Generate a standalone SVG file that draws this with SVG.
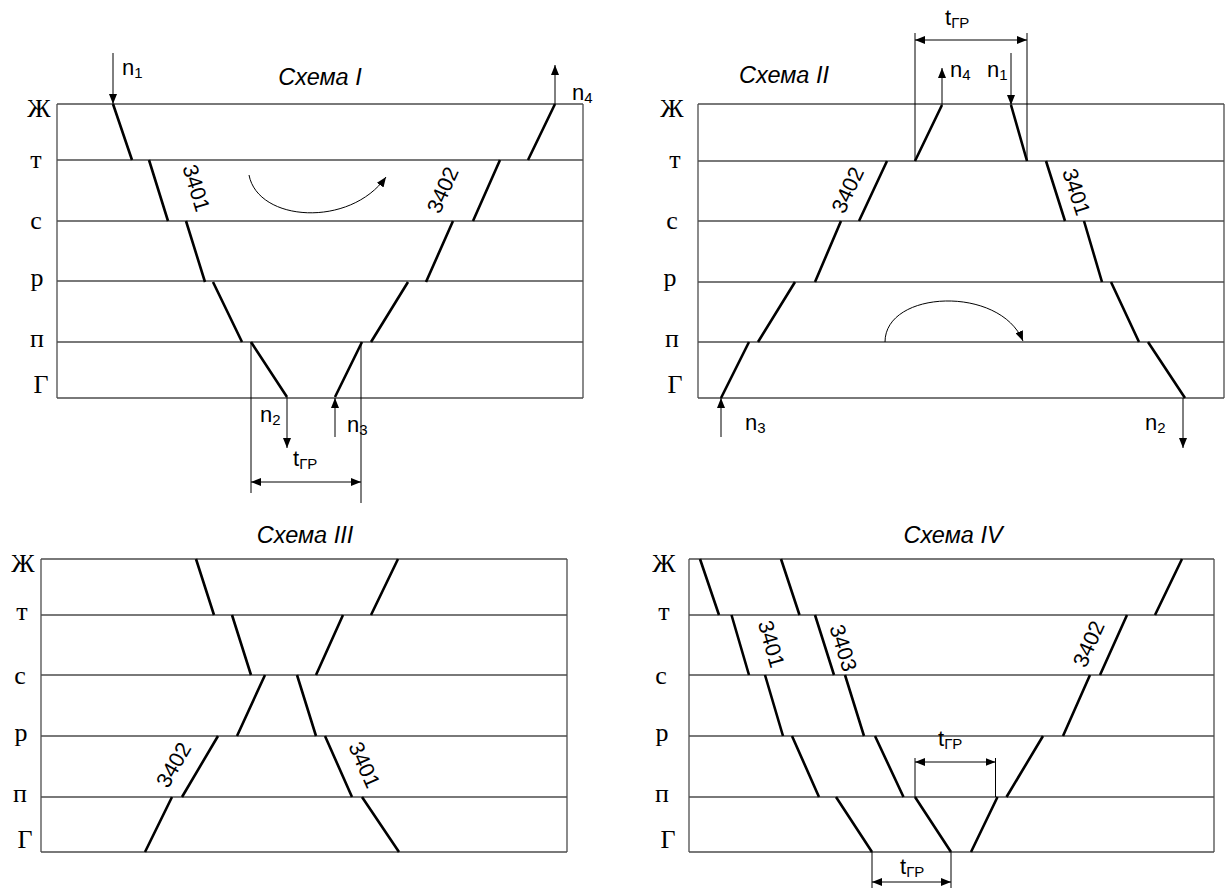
<svg xmlns="http://www.w3.org/2000/svg" width="1229" height="888" viewBox="0 0 1229 888">
<defs>
<marker id="ah" viewBox="0 0 10 8" refX="10" refY="4" markerWidth="10" markerHeight="8" markerUnits="userSpaceOnUse" orient="auto-start-reverse">
<path d="M0,0 L10,4 L0,8 z" fill="#000"/>
</marker>
<style>
.grid{stroke:#4d4d4d;stroke-width:1.3;fill:none}
.trk{stroke:#000;stroke-width:2.6;fill:none}
.arr{stroke:#000;stroke-width:1;fill:none}
.arm{stroke:#000;stroke-width:1;fill:none;marker-end:url(#ah)}
.dim{stroke:#000;stroke-width:1;fill:none;marker-start:url(#ah);marker-end:url(#ah)}
.row{font-family:"Liberation Serif",serif;font-size:26px;fill:#000;text-anchor:middle}
.lab{font-family:"Liberation Sans",sans-serif;font-size:22px;fill:#000}
.sub{font-size:15px}
.ttl{font-family:"Liberation Sans",sans-serif;font-size:23.5px;font-style:italic;fill:#000;text-anchor:middle}
.num{font-family:"Liberation Sans",sans-serif;font-size:21.5px;fill:#000;text-anchor:middle;dominant-baseline:central}
</style>
</defs>
<rect width="1229" height="888" fill="#fff"/>

<g id="scheme1">
<g id="s1-grid">
<path class="grid" d="M57,104H583M57,160H583M57,221H583M57,281H583M57,342H583M57,398H583M57,104V398M583,104V398"/>
</g>
<g id="s1-rows">
<text class="row" x="39" y="117">Ж</text>
<text class="row" x="36" y="168">т</text>
<text class="row" x="36" y="229">с</text>
<text class="row" x="37" y="286">р</text>
<text class="row" x="37" y="347">п</text>
<text class="row" x="41" y="393">Г</text>
</g>
<text class="ttl" x="320" y="85">Схема I</text>
<g id="s1-tracks">
<path class="trk" d="M113,104L132,160M149,160L168,221M186,221L205,282M213,282L242,342M251,342L287,397"/>
<path class="trk" d="M555,104L528,160M500,160L473,221M453,221L426,282M408,282L371,342M362,342L335,397"/>
</g>
<text class="num" transform="translate(196,188) rotate(73)">3401</text>
<text class="num" transform="translate(443,190) rotate(-66)">3402</text>
<g id="s1-connectors">
<path class="arm" d="M113,53V104"/>
<path class="arm" d="M555,104V65"/>
<path class="arm" d="M287,397V448"/>
<path class="arm" d="M335,437V398"/>
<path class="arr" d="M251,342V493M361,342V503"/>
<path class="dim" d="M251,482H361"/>
<path class="arm" d="M249,175C258,222 350,228 386,177"/>
</g>
<text class="lab" x="122" y="75">n<tspan class="sub" dy="3">1</tspan></text>
<text class="lab" x="572" y="100">n<tspan class="sub" dy="3">4</tspan></text>
<text class="lab" x="260" y="422">n<tspan class="sub" dy="3">2</tspan></text>
<text class="lab" x="347" y="432">n<tspan class="sub" dy="3">3</tspan></text>
<text class="lab" x="293" y="466">t<tspan class="sub" dy="3">ГР</tspan></text>
</g>

<g id="scheme2">
<g id="s2-grid">
<path class="grid" d="M698,104H1224M698,161H1224M698,221H1224M698,282H1224M698,342H1224M698,398H1224M698,104V398M1224,104V398"/>
</g>
<g id="s2-rows">
<text class="row" x="672" y="117">Ж</text>
<text class="row" x="675" y="168">т</text>
<text class="row" x="672" y="229">с</text>
<text class="row" x="670" y="286">р</text>
<text class="row" x="672" y="347">п</text>
<text class="row" x="675" y="393">Г</text>
</g>
<text class="ttl" x="784" y="83">Схема II</text>
<g id="s2-tracks">
<path class="trk" d="M942,105L915,161M887,161L859,221M841,221L815,282M795,282L758,342M749,342L721,398"/>
<path class="trk" d="M1011,105L1027,161M1046,161L1065,221M1084,221L1102,282M1111,282L1139,342M1148,342L1185,398"/>
</g>
<text class="num" transform="translate(848,190) rotate(-65)">3402</text>
<text class="num" transform="translate(1076,192) rotate(72)">3401</text>
<g id="s2-connectors">
<path class="arr" d="M915,33V161M1027,33V161"/>
<path class="dim" d="M915,40H1027"/>
<path class="arm" d="M942,105V68"/>
<path class="arm" d="M1011,53V105"/>
<path class="arm" d="M721,437V398"/>
<path class="arm" d="M1183,398V448"/>
<path class="arm" d="M885,342C885,290 1000,285 1023,341"/>
</g>
<text class="lab" x="945" y="25">t<tspan class="sub" dy="3">ГР</tspan></text>
<text class="lab" x="950" y="77">n<tspan class="sub" dy="3">4</tspan></text>
<text class="lab" x="987" y="77">n<tspan class="sub" dy="3">1</tspan></text>
<text class="lab" x="745" y="430">n<tspan class="sub" dy="3">3</tspan></text>
<text class="lab" x="1145" y="430">n<tspan class="sub" dy="3">2</tspan></text>
</g>

<g id="scheme3">
<g id="s3-grid">
<path class="grid" d="M41,559H567M41,615H567M41,675H567M41,736H567M41,797H567M41,852H567M41,559V852M567,559V852"/>
</g>
<g id="s3-rows">
<text class="row" x="23" y="572">Ж</text>
<text class="row" x="22" y="620">т</text>
<text class="row" x="20" y="684">с</text>
<text class="row" x="21" y="741">р</text>
<text class="row" x="20" y="802">п</text>
<text class="row" x="25" y="848">Г</text>
</g>
<text class="ttl" x="305" y="543">Схема III</text>
<g id="s3-tracks">
<path class="trk" d="M196,559L214,615M232,615L251,675M265,675L237,736M218,736L182,797M172,797L145,852"/>
<path class="trk" d="M398,559L371,615M343,615L316,675M297,675L316,736M325,736L352,797M362,797L399,852"/>
</g>
<text class="num" transform="translate(174,765) rotate(-60)">3402</text>
<text class="num" transform="translate(364,765) rotate(66)">3401</text>
</g>

<g id="scheme4">
<g id="s4-grid">
<path class="grid" d="M689,559H1214M689,615H1214M689,675H1214M689,736H1214M689,797H1214M689,852H1214M689,559V852M1214,559V852"/>
</g>
<g id="s4-rows">
<text class="row" x="664" y="572">Ж</text>
<text class="row" x="664" y="620">т</text>
<text class="row" x="661" y="684">с</text>
<text class="row" x="662" y="741">р</text>
<text class="row" x="662" y="802">п</text>
<text class="row" x="668" y="848">Г</text>
</g>
<text class="ttl" x="953" y="543">Схема IV</text>
<g id="s4-tracks">
<path class="trk" d="M700,559L719,615M731.5,615L749,675M765,675L783,736M792,736L819,797M836,797L872,852"/>
<path class="trk" d="M781,559L799.5,615M815,615L834,675M845,675L864,736M875,736L903.5,797M915,797L951,852"/>
<path class="trk" d="M1182,559L1155,615M1127,615L1100,675M1090,675L1063,736M1043,736L1006.5,797M997.5,797L971,852"/>
</g>
<text class="num" transform="translate(771,644) rotate(74)">3401</text>
<text class="num" transform="translate(843,648) rotate(73)">3403</text>
<text class="num" transform="translate(1089,644) rotate(-66)">3402</text>
<g id="s4-connectors">
<path class="arr" d="M915,758V797M995.5,758V797"/>
<path class="dim" d="M915,762H995.5"/>
<path class="arr" d="M872,852V888M951,852V888"/>
<path class="dim" d="M872,882H951"/>
</g>
<text class="lab" x="938" y="746">t<tspan class="sub" dy="3">ГР</tspan></text>
<text class="lab" x="900" y="874">t<tspan class="sub" dy="3">ГР</tspan></text>
</g>
</svg>
